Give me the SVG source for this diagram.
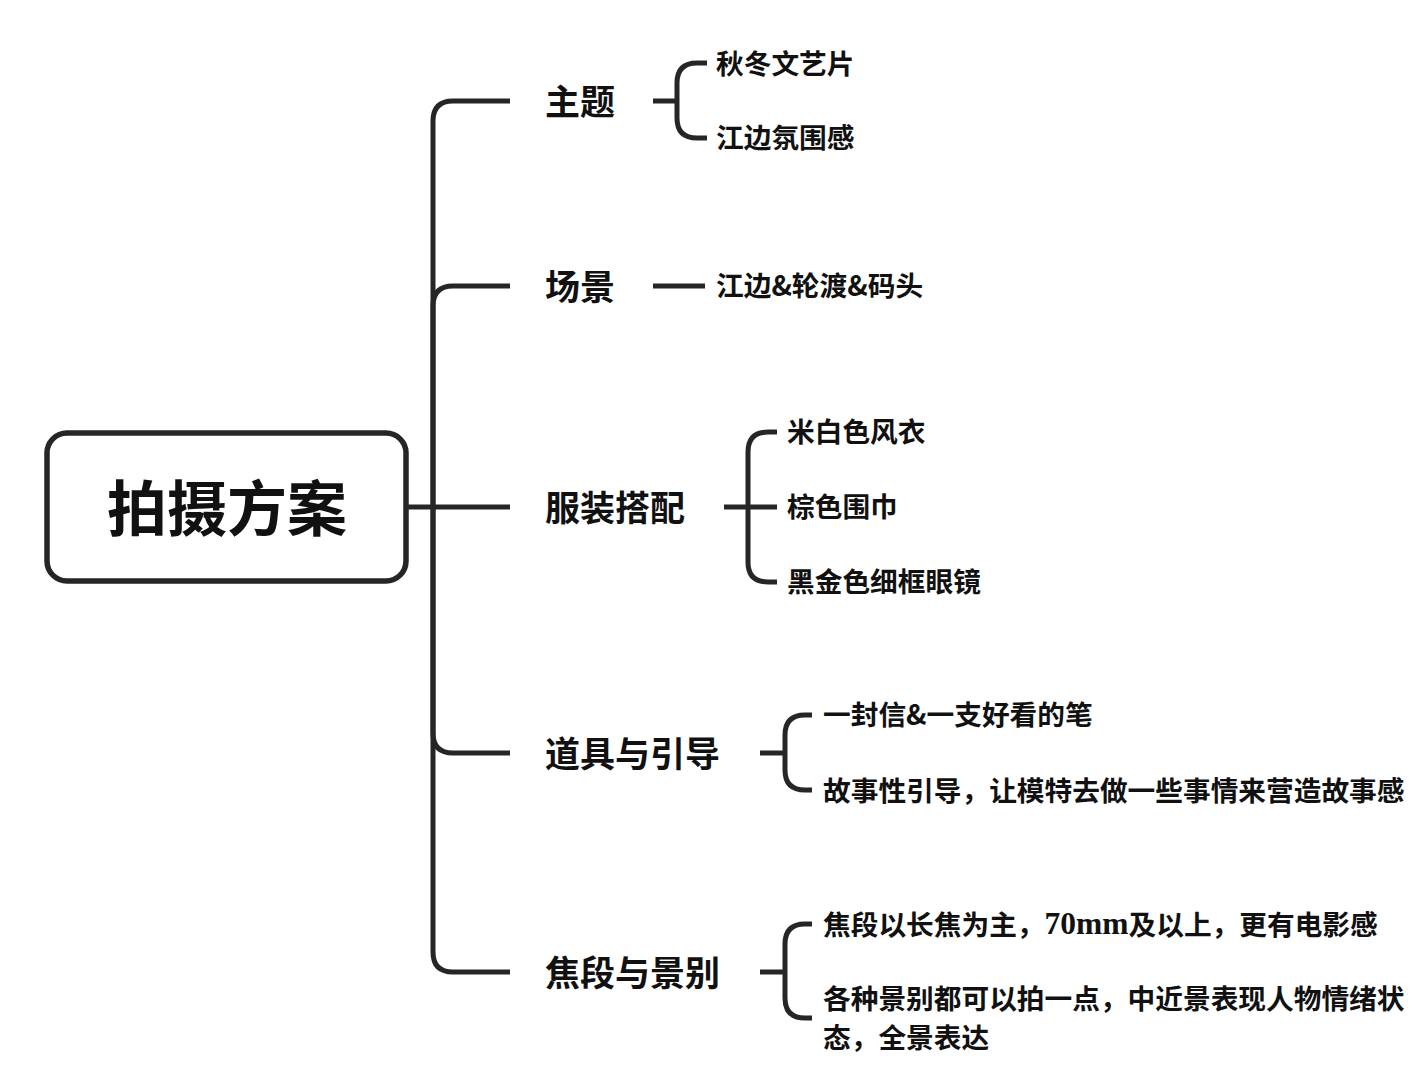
<svg xmlns="http://www.w3.org/2000/svg" width="1422" height="1080" viewBox="0 0 1422 1080">
<style>
.ln{fill:none;stroke:#262626;stroke-width:5;stroke-linecap:butt;stroke-linejoin:round}
text{font-family:"Noto Sans CJK SC","Noto Sans",sans-serif;fill:#111;dominant-baseline:central;font-weight:bold}
.root{font-size:60px;text-anchor:middle}
.br{font-size:35px}
.lf{font-size:27.7px}
.num{font-family:"Liberation Serif",serif;font-size:31.5px}
</style>
<rect width="1422" height="1080" fill="#ffffff"/>
<g id="connectors">
<path class="ln" d="M406,507 L433,507"/>
<path class="ln" d="M433,507 L433,121 Q433,101 453,101 L510,101"/>
<path class="ln" d="M433,507 L433,306 Q433,286 453,286 L510,286"/>
<path class="ln" d="M433,507 L510,507"/>
<path class="ln" d="M433,507 L433,733 Q433,753 453,753 L510,753"/>
<path class="ln" d="M433,507 L433,952 Q433,972 453,972 L510,972"/>
<path class="ln" d="M653,101 L677,101"/>
<path class="ln" d="M677,101 L677,83 Q677,63 697,63 L707,63"/>
<path class="ln" d="M677,101 L677,118 Q677,138 697,138 L707,138"/>
<path class="ln" d="M653,286 L705,286"/>
<path class="ln" d="M724,507 L748,507"/>
<path class="ln" d="M748,507 L748,452 Q748,432 768,432 L777,432"/>
<path class="ln" d="M748,507 L777,507"/>
<path class="ln" d="M748,507 L748,562 Q748,582 768,582 L777,582"/>
<path class="ln" d="M760,753 L785,753"/>
<path class="ln" d="M785,753 L785,735 Q785,715 805,715 L812,715"/>
<path class="ln" d="M785,753 L785,770 Q785,790 805,790 L812,790"/>
<path class="ln" d="M760,972 L785,972"/>
<path class="ln" d="M785,972 L785,944 Q785,924 805,924 L812,924"/>
<path class="ln" d="M785,972 L785,998 Q785,1018 805,1018 L812,1018"/>
</g>
<g id="root">
<rect x="47" y="433" width="359" height="148" rx="20" fill="#fff" stroke="#262626" stroke-width="5.5"/>
<text class="root" x="227" y="504">拍摄方案</text>
</g>
<g id="b1"><text class="br" x="545" y="99">主题</text></g>
<g id="b2"><text class="br" x="545" y="284">场景</text></g>
<g id="b3"><text class="br" x="545" y="505">服装搭配</text></g>
<g id="b4"><text class="br" x="545" y="751">道具与引导</text></g>
<g id="b5"><text class="br" x="545" y="970">焦段与景别</text></g>
<g id="l1"><text class="lf" x="716" y="62">秋冬文艺片</text></g>
<g id="l2"><text class="lf" x="716" y="136">江边氛围感</text></g>
<g id="l3"><text class="lf" x="716" y="284">江边&amp;轮渡&amp;码头</text></g>
<g id="l4"><text class="lf" x="787" y="430">米白色风衣</text></g>
<g id="l5"><text class="lf" x="787" y="505">棕色围巾</text></g>
<g id="l6"><text class="lf" x="787" y="580">黑金色细框眼镜</text></g>
<g id="l7"><text class="lf" x="823" y="713">一封信&amp;一支好看的笔</text></g>
<g id="l8"><text class="lf" x="823" y="789">故事性引导，让模特去做一些事情来营造故事感</text></g>
<g id="l9"><text class="lf" x="823" y="923">焦段以长焦为主，<tspan class="num">70mm</tspan>及以上，更有电影感</text></g>
<g id="l10"><text class="lf" x="823" y="997">各种景别都可以拍一点，中近景表现人物情绪状</text><text class="lf" x="823" y="1036">态，全景表达</text></g>
</svg>
